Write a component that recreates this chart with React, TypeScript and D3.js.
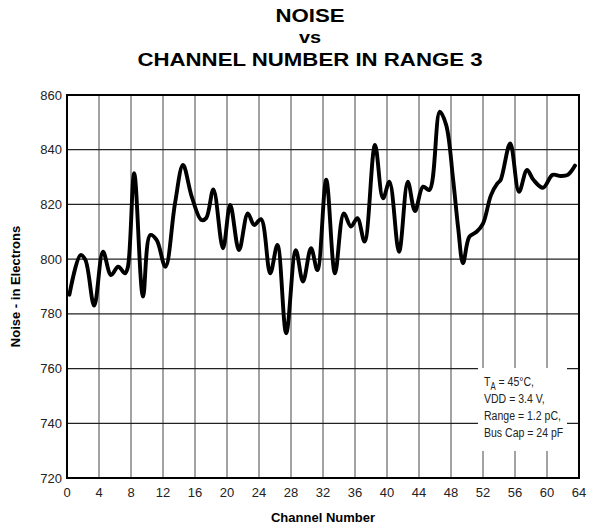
import React from "react";
import * as d3 from "d3";

const channels = [0.3, 1.7, 2.3, 3.4, 4.5, 5.5, 6.4, 7.25, 7.6, 8.4, 9.5, 10.4, 11.2, 12.3, 13.5, 14.5, 15.6, 16.8, 17.4, 18.3, 19.5, 20.4, 21.5, 22.6, 23.4, 24.25, 25.4, 26.3, 27.4, 28.6, 29.5, 30.5, 31.3, 32.4, 33.5, 34.6, 35.5, 36.3, 37.2, 38.5, 39.5, 40.3, 41.5, 42.6, 43.5, 44.5, 45.3, 46.6, 47.4, 48.25, 48.9, 49.5, 50.3, 51.2, 52, 53, 53.8, 54.2, 55.4, 56.5, 57.5, 58.3, 59.5, 60.7, 61.7, 62.6, 63.5];
const noise = [787, 801.5, 799.7, 783, 802.7, 794.2, 797.2, 794.8, 797, 831.4, 786.3, 808.8, 807, 797.2, 820.4, 834.4, 822.8, 814.3, 815, 825.5, 804, 819.8, 803.3, 816.7, 812.5, 814.6, 794.8, 805.2, 772.9, 803.3, 791.8, 804, 796, 829, 794.8, 816.7, 811.9, 815, 806.4, 841.7, 822.2, 828.3, 802.7, 828.3, 817.6, 826.5, 825.3, 853.9, 849, 829.5, 811.3, 798.5, 808.2, 810, 813, 823.4, 827.7, 828.9, 842.3, 824.6, 832.6, 829, 826.1, 830.8, 830.4, 830.8, 834.2];

const xTicks = d3.range(0, 65, 4);
const yTicks = d3.range(720, 861, 20);
const titleLines = ["NOISE", "vs", "CHANNEL NUMBER IN RANGE 3"];
const noteLines = ["VDD = 3.4 V,", "Range = 1.2 pC,", "Bus Cap = 24 pF"];

const FONT = "Arial, 'Liberation Sans', Helvetica, sans-serif";

export default function App() {
  const width = 589;
  const height = 529;
  const margin = { top: 95, left: 67, right: 10, bottom: 51 };

  const x = d3.scaleLinear().domain([0, 64]).range([margin.left, width - margin.right]);
  const y = d3.scaleLinear().domain([720, 860]).range([height - margin.bottom, margin.top]);

  const line = d3
    .line<number>()
    .x((d, i) => x(channels[i]))
    .y((d) => y(d))
    .curve(d3.curveCatmullRom.alpha(0.5));

  const x0 = x(0), x1 = x(64), y0 = y(720), y1 = y(860);

  return (
    <svg width={width} height={height} style={{ position: "absolute", left: 0, top: 0 }} fontFamily={FONT}>
      <rect width={width} height={height} fill="#fff" />
      {titleLines.map((t, i) => (
        <text
          key={t}
          transform={`translate(310,${[22, 43, 66][i]}) scale(1.17,1)`}
          textAnchor="middle"
          fontWeight="bold"
          fontSize={i === 1 ? 17 : 19}
        >
          {t}
        </text>
      ))}

      {/* grid */}
      {xTicks.slice(1, -1).map((t) => (
        <line key={"vx" + t} x1={x(t)} x2={x(t)} y1={y1} y2={y0} stroke="#666" strokeWidth={1.2} />
      ))}
      {yTicks.slice(1, -1).map((t) => (
        <line key={"hy" + t} x1={x0} x2={x1} y1={y(t)} y2={y(t)} stroke="#222" strokeWidth={1.2} />
      ))}

      {/* annotation box covers the grid */}
      <rect x={478} y={368} width={89} height={83} fill="#fff" />
      <g transform="translate(484,0) scale(0.78,1)" fontSize={13.5} fill="#222">
        <text x={0} y={386}>
          T<tspan fontSize={10} dy={4}>A</tspan>
          <tspan dy={-4}> = 45°C,</tspan>
        </text>
        {noteLines.map((t, i) => (
          <text key={t} x={0} y={403 + i * 17}>
            {t}
          </text>
        ))}
      </g>

      <path d={line(noise) || ""} fill="none" stroke="#000" strokeWidth={3.9} strokeLinejoin="round" strokeLinecap="round" />

      <rect x={x0} y={y1} width={x1 - x0} height={y0 - y1} fill="none" stroke="#000" strokeWidth={2} />

      {yTicks.map((t) => (
        <text key={"yl" + t} x={x0 - 5} y={y(t)} dy="0.35em" textAnchor="end" fontSize={13} fill="#222">
          {t}
        </text>
      ))}
      {xTicks.map((t) => (
        <text key={"xl" + t} x={x(t)} y={y0 + 19} textAnchor="middle" fontSize={13} fill="#222">
          {t}
        </text>
      ))}

      <text x={(x0 + x1) / 2} y={522} textAnchor="middle" fontWeight="bold" fontSize={13}>
        Channel Number
      </text>
      <text
        transform={`translate(20,${(y0 + y1) / 2}) rotate(-90)`}
        textAnchor="middle"
        fontWeight="bold"
        fontSize={13}
      >
        Noise - in Electrons
      </text>
    </svg>
  );
}
